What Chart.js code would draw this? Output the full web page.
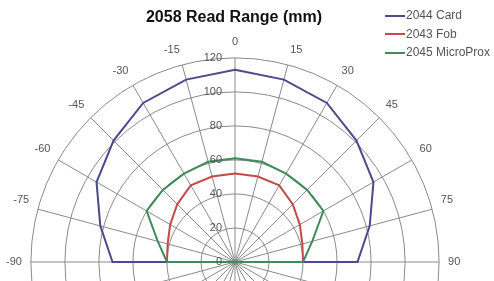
<!DOCTYPE html>
<html>
<head>
<meta charset="utf-8">
<script src="https://cdn.jsdelivr.net/npm/chart.js@4/dist/chart.umd.min.js"></script>
<style>
  html, body { margin: 0; padding: 0; background: #fff; overflow: hidden; }
  #wrap { position: relative; width: 494px; height: 520px; }
  #legend { position: absolute; left: 385px; top: 6px; font: 12px "Liberation Sans", Arial, sans-serif; color: #555; white-space: nowrap; }
  #legend div { height: 18.5px; line-height: 18.5px; }
  #legend span.sw { display: inline-block; width: 20px; height: 2px; vertical-align: middle; margin-right: 1px; }
</style>
</head>
<body>
<div id="wrap">
  <canvas id="range_chart"></canvas>
  <div id="legend"></div>
</div>
<script>
// angles in degrees, clockwise from the top, full circle in 15 degree steps
var angles = ['0','15','30','45','60','75','90','105','120','135','150','165','180',
              '-165','-150','-135','-120','-105','-90','-75','-60','-45','-30','-15'];
var range_ticks = [0, 20, 40, 60, 80, 100, 120];

var series_names = ['2044 Card', '2043 Fob', '2045 MicroProx'];
var series_colors = ['#4a4a8c', '#c44a4a', '#3d8c5a'];

// read range (mm); nothing is read behind the reader so those are 0
var card_range = [113,111,108,101,94,82,72, 0,0,0,0,0,0,0,0,0,0,0, 72,82,94,101,108,111];
var fob_range  = [52,52,52,48,44,41,40, 0,0,0,0,0,0,0,0,0,0,0, 40,41,44,48,52,52];
var prox_range = [61,61,60,60,60,47,40, 0,0,0,0,0,0,0,0,0,0,0, 40,47,60,60,60,61];

var all_ranges = [card_range, fob_range, prox_range];

Chart.defaults.font.family = '"Liberation Sans", Arial, sans-serif';

// value labels sit left of the 0 spoke like in the excel chart
const rangeTicksPlugin = {
    id: 'rangeTicks',
    afterDraw(chart) {
        const r = chart.scales.r;
        const ctx = chart.ctx;
        ctx.save();
        ctx.font = '11px "Liberation Sans", Arial, sans-serif';
        ctx.fillStyle = '#555';
        ctx.textAlign = 'right';
        ctx.textBaseline = 'middle';
        for (var i = 0; i < range_ticks.length; i++) {
            var d = r.getDistanceFromCenterForValue(range_ticks[i]);
            ctx.fillText(String(range_ticks[i]), r.xCenter - 13, r.yCenter - d);
        }
        ctx.restore();
    }
};

let datasets = [];
for (var i = 0; i < series_names.length; i++) {
    datasets.push({
        label: series_names[i],
        data: all_ranges[i],
        borderColor: series_colors[i],
        backgroundColor: series_colors[i],
        borderWidth: 2,
        pointRadius: 0,
        fill: false,
        tension: 0,
        order: series_names.length - i
    });
}

const ctx = document.getElementById('range_chart');
var range_chart = new Chart(ctx, {
    type: 'radar',
    data: {
        labels: angles,
        datasets: datasets
    },
    options: {
        responsive: true,
        maintainAspectRatio: false,
        animation: false,
        layout: {
            padding: { left: 5, right: 31, top: 0, bottom: 26 }
        },
        scales: {
            r: {
                min: 0,
                max: 120,
                startAngle: 0,
                ticks: { stepSize: 20, display: false },
                grid: { circular: true, color: '#8a8a8a', lineWidth: 1 },
                angleLines: { color: '#8a8a8a', lineWidth: 1 },
                pointLabels: {
                    color: '#555',
                    padding: 9,
                    font: { size: 11 }
                }
            }
        },
        plugins: {
            legend: false,
            tooltip: { enabled: false },
            title: {
                display: true,
                text: '2058 Read Range (mm)',
                color: '#111',
                font: { size: 16, weight: 'bold' },
                padding: { top: 8, bottom: 3 }
            }
        }
    },
    plugins: [rangeTicksPlugin]
});

// legend on the top right, drawn over the chart
let legend_html = '';
for (var i = 0; i < series_names.length; i++) {
    legend_html += '<div><span class="sw" style="background:' + series_colors[i] + '"></span>' + series_names[i] + '</div>';
}
document.getElementById('legend').innerHTML = legend_html;
</script>
</body>
</html>
